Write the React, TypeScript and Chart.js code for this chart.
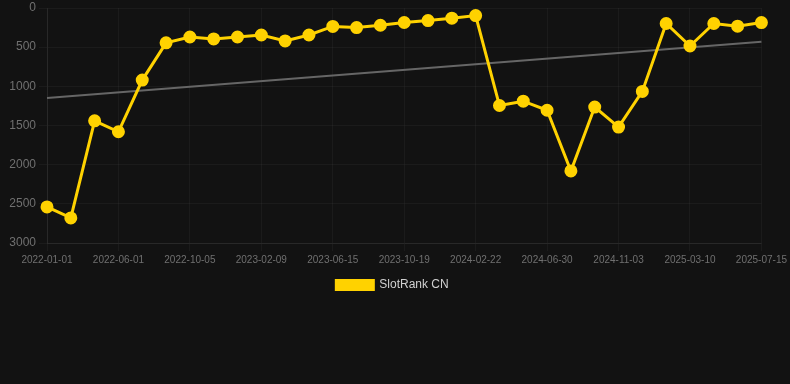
import React, { useEffect, useRef } from "react";
import { Chart, registerables } from "chart.js";

Chart.register(...registerables);

const labels = [
  "2022-01-01", "2022-02-20", "2022-04-11", "2022-06-01", "2022-07-13", "2022-08-24",
  "2022-10-05", "2022-11-17", "2022-12-29", "2023-02-09", "2023-03-23", "2023-05-04",
  "2023-06-15", "2023-07-27", "2023-09-07", "2023-10-19", "2023-11-30", "2024-01-11",
  "2024-02-22", "2024-04-04", "2024-05-17", "2024-06-30", "2024-08-11", "2024-09-22",
  "2024-11-03", "2024-12-15", "2025-01-26", "2025-03-10", "2025-04-21", "2025-06-02",
  "2025-07-15",
];

const rankValues = [
  2540, 2680, 1440, 1580, 920, 445, 370, 395, 370, 345, 420, 345, 235, 250, 220,
  185, 160, 130, 97, 1245, 1190, 1305, 2080, 1265, 1520, 1065, 198, 485, 198, 232, 186,
];

const trendStart = 1150;
const trendEnd = 430;

const yTicks = [0, 500, 1000, 1500, 2000, 2500, 3000];

export default function App() {
  const ref = useRef<HTMLCanvasElement | null>(null);

  useEffect(() => {
    document.body.style.margin = "0";
    document.body.style.background = "#121212";
    const trend = labels.map((_, i) =>
      i === 0 ? trendStart : i === labels.length - 1 ? trendEnd : null
    );
    const chart = new Chart(ref.current!, {
      type: "line",
      data: {
        labels,
        datasets: [
          {
            label: "SlotRank CN",
            data: rankValues,
            borderColor: "#FFD200",
            backgroundColor: "#FFD200",
            borderWidth: 3,
            pointRadius: 5,
            pointHoverRadius: 5,
            pointBackgroundColor: "#FFD200",
            pointBorderColor: "#FFD200",
            tension: 0,
          },
          {
            label: "trend",
            data: trend,
            borderColor: "#666666",
            backgroundColor: "#666666",
            borderWidth: 2,
            pointRadius: 0,
            spanGaps: true,
          },
        ],
      },
      options: {
        animation: false,
        responsive: false,
        layout: { padding: { left: 0, right: 5, top: 0, bottom: 83 } },
        plugins: {
          legend: {
            position: "bottom",
            labels: {
              color: "#d0d0d0",
              font: { size: 12 },
              boxWidth: 37,
              boxHeight: 9,
              filter: (item: any) => item.text !== "trend",
            },
          },
          tooltip: { enabled: false },
        },
        scales: {
          x: {
            grid: { color: "rgba(255,255,255,0.04)" },
            border: { color: "rgba(255,255,255,0.06)" },
            ticks: {
              color: "#707070",
              font: { size: 10 },
              autoSkip: false,
              maxRotation: 0,
              callback: (_v: any, i: number) => (i % 3 === 0 ? labels[i] : null),
            },
          },
          y: {
            reverse: true,
            min: 0,
            max: 3000,
            grid: { color: "rgba(255,255,255,0.04)" },
            border: { color: "rgba(255,255,255,0.06)" },
            afterBuildTicks: (axis: any) => {
              axis.ticks = yTicks.map((v) => ({ value: v }));
            },
            afterFit: (axis: any) => {
              axis.width = 47;
            },
            ticks: {
              color: "#707070",
              font: { size: 12, lineHeight: 0.6 },
              callback: (v: any) => String(v),
            },
          },
        },
      },
    });
    return () => chart.destroy();
  }, []);

  return (
    <div style={{ width: 790, height: 384, background: "#121212" }}>
      <canvas ref={ref} width={790} height={384} />
    </div>
  );
}
